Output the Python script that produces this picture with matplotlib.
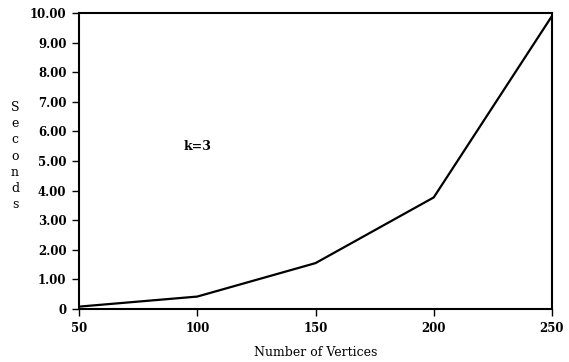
import matplotlib
matplotlib.use("Agg")
import matplotlib.pyplot as plt

vertices = [50, 100, 150, 200, 250]
seconds = [0.08, 0.42, 1.55, 3.77, 9.9]
yticks = [0, 1, 2, 3, 4, 5, 6, 7, 8, 9, 10]
ytick_labels = ["0"] + [f"{v:.2f}" for v in yticks[1:]]
xticks = [50, 100, 150, 200, 250]

plt.rcParams['font.family'] = ['DejaVu Serif']

fig = plt.figure(figsize=(5.69, 3.62), dpi=100)
ax = fig.add_axes([79/569, 1 - 309/362, (552-79)/569, (309-13)/362])
ax.plot(vertices, seconds, color='black', linewidth=1.6)
ax.set_xlim(50, 250)
ax.set_ylim(0, 10)
ax.set_xticks(xticks)
ax.set_xticklabels([str(v) for v in xticks], fontsize=8.5, fontweight='bold')
ax.set_yticks(yticks)
ax.set_yticklabels(ytick_labels, fontsize=8.5, fontweight='bold')
ax.tick_params(direction='out', length=5, width=1, top=False, right=False, pad=4)
for s in ax.spines.values():
    s.set_linewidth(1.5)
ax.set_xlabel("Number of Vertices", fontsize=9, fontweight='normal', labelpad=8)
fig.text(15/569, 1 - 156/362, "S\ne\nc\no\nn\nd\ns", ha='center', va='center',
         fontsize=9, fontweight='normal', linespacing=1.31)
ax.text(100, 5.5, "k=3", ha='center', va='center', fontsize=9, fontweight='bold')
fig.savefig("out.png", dpi=100)
